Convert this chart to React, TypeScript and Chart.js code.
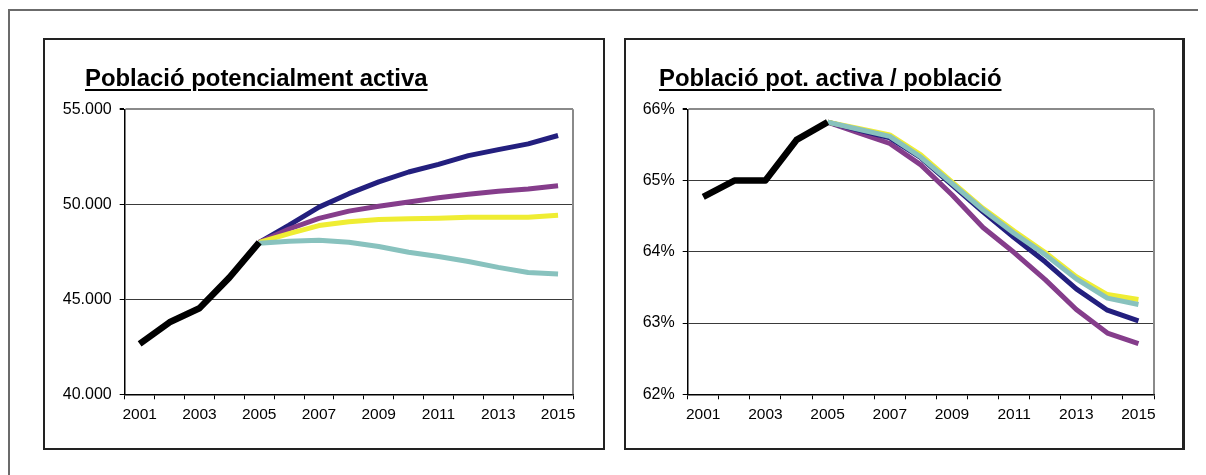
import React, { useEffect, useRef } from "react";
import { Chart, registerables } from "chart.js";

Chart.register(...registerables);

const years = ["2001","2002","2003","2004","2005","2006","2007","2008","2009","2010","2011","2012","2013","2014","2015"];

// Left chart: Població potencialment activa
const popHistoric = [42650, 43790, 44530, 46140, 48000, null, null, null, null, null, null, null, null, null, null];
const popBlue = [null, null, null, null, 48000, 48900, 49850, 50560, 51180, 51700, 52100, 52560, 52880, 53180, 53620];
const popPurple = [null, null, null, null, 48000, 48700, 49260, 49640, 49900, 50120, 50340, 50530, 50690, 50800, 50980];
const popYellow = [null, null, null, null, 48000, 48460, 48880, 49080, 49200, 49240, 49270, 49320, 49320, 49320, 49420];
const popTeal = [null, null, null, null, 47950, 48060, 48110, 48000, 47780, 47480, 47250, 46990, 46680, 46410, 46330];

// Right chart: Població pot. activa / població (%)
const ratioHistoric = [64.77, 65.0, 65.0, 65.57, 65.82, null, null, null, null, null, null, null, null, null, null];
const ratioBlue = [null, null, null, null, 65.82, 65.71, 65.6, 65.32, 64.94, 64.56, 64.2, 63.86, 63.48, 63.18, 63.03];
const ratioPurple = [null, null, null, null, 65.82, 65.67, 65.52, 65.22, 64.8, 64.34, 63.99, 63.61, 63.19, 62.86, 62.71];
const ratioYellow = [null, null, null, null, 65.82, 65.73, 65.64, 65.36, 64.98, 64.61, 64.29, 63.99, 63.65, 63.4, 63.33];
const ratioTeal = [null, null, null, null, 65.82, 65.72, 65.62, 65.33, 64.96, 64.59, 64.26, 63.96, 63.62, 63.35, 63.26];

const titles = ["Població potencialment activa", "Població pot. activa / població"];

const COLORS = {
  black: "#000000",
  blue: "#231f7e",
  purple: "#853d8b",
  yellow: "#efed33",
  teal: "#88c2be",
};

const FONT = "'Liberation Sans', Arial, sans-serif";

function fmtThousands(v: number) {
  return Math.round(v).toString().replace(/\B(?=(\d{3})+(?!\d))/g, ".");
}

type Spec = {
  width: number;
  height: number;
  plotLeft: number;
  plotRight: number;
  plotTop: number;
  plotBottom: number;
  min: number;
  max: number;
  step: number;
  fmt: (v: number) => string;
  series: { data: (number | null)[]; color: string; width: number }[];
};

function LineChart({ spec }: { spec: Spec }) {
  const ref = useRef<HTMLCanvasElement | null>(null);
  useEffect(() => {
    if (!ref.current) return;
    const xAxisH = 40;
    const borderPlugin = {
      id: "plotBorder",
      afterDraw(chart: any) {
        const { ctx, chartArea } = chart;
        ctx.save();
        ctx.strokeStyle = "#8a8a8a";
        ctx.lineWidth = 2;
        ctx.beginPath();
        ctx.moveTo(chartArea.right, chartArea.top);
        ctx.lineTo(chartArea.right, chartArea.bottom);
        ctx.stroke();
        ctx.restore();
      },
    };
    const chart = new Chart(ref.current, {
      type: "line",
      data: {
        labels: years,
        datasets: spec.series.map((s) => ({
          data: s.data,
          borderColor: s.color,
          backgroundColor: s.color,
          borderWidth: s.width,
          pointRadius: 0,
          tension: 0,
          spanGaps: false,
          borderJoinStyle: "round" as const,
          borderCapStyle: "butt" as const,
        })),
      },
      options: {
        responsive: false,
        animation: false,
        events: [],
        layout: {
          padding: {
            left: 0,
            right: spec.width - spec.plotRight,
            top: spec.plotTop,
            bottom: spec.height - spec.plotBottom - xAxisH,
          },
        },
        plugins: {
          legend: { display: false },
          tooltip: { enabled: false },
          title: { display: false },
        },
        scales: {
          x: {
            offset: true,
            afterFit(scale: any) {
              scale.height = xAxisH;
            },
            grid: {
              display: true,
              offset: true,
              drawOnChartArea: false,
              drawTicks: true,
              tickLength: 5,
              color: "#000",
              lineWidth: 1,
            },
            border: { display: true, color: "#000", width: 1.5 },
            ticks: {
              autoSkip: false,
              maxRotation: 0,
              minRotation: 0,
              padding: 6,
              color: "#000",
              font: { family: FONT, size: 15.5 },
              callback: (_v: any, i: number) => (i % 2 === 0 ? years[i] : ""),
            },
          },
          y: {
            min: spec.min,
            max: spec.max,
            afterFit(scale: any) {
              scale.width = spec.plotLeft;
            },
            grid: {
              display: true,
              drawTicks: true,
              tickLength: 5,
              color: (ctx: any) => (ctx.tick && ctx.tick.value === spec.max ? "#8a8a8a" : "#3a3a3a"),
              tickColor: "#000",
              lineWidth: (ctx: any) => (ctx.tick && ctx.tick.value === spec.max ? 2 : 1),
            },
            border: { display: true, color: "#000", width: 1.5 },
            ticks: {
              stepSize: spec.step,
              padding: 8,
              color: "#000",
              font: { family: FONT, size: 16 },
              callback: (v: any) => spec.fmt(Number(v)),
            },
          },
        },
      },
      plugins: [borderPlugin],
    });
    return () => chart.destroy();
  }, [spec]);
  return <canvas ref={ref} width={spec.width} height={spec.height} style={{ display: "block", width: spec.width, height: spec.height }} />;
}

const leftSpec: Spec = {
  width: 557,
  height: 407,
  plotLeft: 79.7,
  plotRight: 528,
  plotTop: 69.3,
  plotBottom: 354.3,
  min: 40000,
  max: 55000,
  step: 5000,
  fmt: fmtThousands,
  series: [
    { data: popHistoric, color: COLORS.black, width: 6.5 },
    { data: popTeal, color: COLORS.teal, width: 5 },
    { data: popYellow, color: COLORS.yellow, width: 5 },
    { data: popPurple, color: COLORS.purple, width: 5 },
    { data: popBlue, color: COLORS.blue, width: 5 },
  ],
};

const rightSpec: Spec = {
  width: 556,
  height: 407,
  plotLeft: 61.7,
  plotRight: 528,
  plotTop: 69.3,
  plotBottom: 354.3,
  min: 62,
  max: 66,
  step: 1,
  fmt: (v: number) => Math.round(v) + "%",
  series: [
    { data: ratioHistoric, color: COLORS.black, width: 6.5 },
    { data: ratioTeal, color: COLORS.teal, width: 5 },
    { data: ratioYellow, color: COLORS.yellow, width: 5 },
    { data: ratioBlue, color: COLORS.blue, width: 5 },
    { data: ratioPurple, color: COLORS.purple, width: 5 },
  ],
};

const titleStyle: React.CSSProperties = {
  position: "absolute",
  fontFamily: FONT,
  fontWeight: "bold",
  fontSize: 23.9,
  lineHeight: 1,
  textDecoration: "underline",
  textDecorationThickness: 2,
  textUnderlineOffset: 3,
  color: "#000",
  whiteSpace: "nowrap",
};

export default function App() {
  return (
    <div style={{ position: "relative", width: 1198, height: 467, overflow: "hidden", background: "#fff" }}>
      <div
        style={{
          position: "absolute",
          left: 0,
          top: 1,
          width: 1210,
          height: 480,
          boxSizing: "border-box",
          borderTop: "2px solid #6b6b6b",
          borderLeft: "2px solid #6b6b6b",
        }}
      />
      <div style={{ position: "absolute", left: 35, top: 30, width: 562, height: 412, boxSizing: "border-box", border: "2px solid #222" }} />
      <div style={{ position: "absolute", left: 616, top: 30, width: 561, height: 412, boxSizing: "border-box", border: "2px solid #222", borderRightWidth: 3 }} />
      <div style={{ position: "absolute", left: 37, top: 32 }}>
        <LineChart spec={leftSpec} />
      </div>
      <div style={{ position: "absolute", left: 618, top: 32 }}>
        <LineChart spec={rightSpec} />
      </div>
      <div style={{ ...titleStyle, left: 77, top: 58 }}>{titles[0]}</div>
      <div style={{ ...titleStyle, left: 651, top: 58 }}>{titles[1]}</div>
    </div>
  );
}
